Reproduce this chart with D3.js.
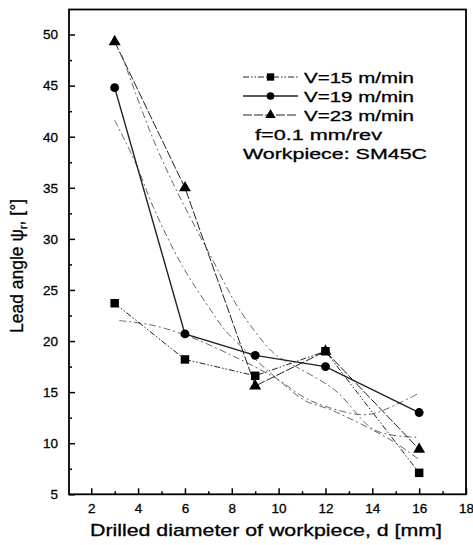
<!DOCTYPE html>
<html>
<head>
<meta charset="utf-8">
<script src="https://cdn.jsdelivr.net/npm/d3@7/dist/d3.min.js"></script>
<style>
  body { margin: 0; background: #fff; }
  text { font-family: "Liberation Sans", Arial, Helvetica, sans-serif; fill: #000; stroke: #000; stroke-width: 0.3; }
</style>
</head>
<body>
<svg id="chart" width="473" height="545"></svg>
<script>
// Measured lead angle for each drilled diameter, per cutting speed
const diameters = [3, 6, 9, 12, 16];
const leadV15 = [23.7, 18.2, 16.6, 19.0, 7.1];
const leadV19 = [44.8, 20.7, 18.6, 17.5, 13.0];
const leadV23 = [49.3, 35.0, 15.6, 19.0, 9.4];

// Trend curves (diameter, angle) drawn as dash-dot lines
const trendV15 = [[3.2, 22.0], [4.5, 21.6], [6.0, 20.6], [8.0, 18.6], [10.0, 16.2], [11.0, 14.6], [12.0, 13.6], [13.5, 12.8], [14.2, 13.0], [16.0, 14.9]];
const trendV19 = [[3.0, 41.6], [3.9, 37.4], [4.65, 33.1], [5.9, 27.3], [7.2, 22.7], [7.7, 21.1], [9.1, 18.0], [10.1, 16.0], [11.1, 14.2], [12.3, 13.2], [14.8, 10.3], [16.0, 8.4]];
const trendV23 = [[3.3, 48.0], [4.6, 40.0], [5.5, 35.4], [7.1, 28.3], [8.35, 23.0], [9.8, 18.8], [10.5, 17.8], [12.4, 15.2], [14.1, 11.3], [15.7, 10.6], [16.0, 10.6]];

const xTicks = [2, 4, 6, 8, 10, 12, 14, 16, 18];
const xMinorTicks = [3, 5, 7, 9, 11, 13, 15, 17];
const yTicks = [5, 10, 15, 20, 25, 30, 35, 40, 45, 50];
const yMinorTicks = [7.5, 12.5, 17.5, 22.5, 27.5, 32.5, 37.5, 42.5, 47.5];

const legendLabels = ["V=15 m/min", "V=19 m/min", "V=23 m/min"];
const noteLines = ["f=0.1 mm/rev", "Workpiece: SM45C"];

const svg = d3.select("#chart");
const plotLeft = 69, plotRight = 466, plotTop = 9.5, plotBottom = 494.3;

const x = d3.scaleLinear().domain([1.05, 18]).range([plotLeft, plotRight]);
const y = d3.scaleLinear().domain([5, 52.45]).range([plotBottom, plotTop]);

// Series definitions
const series = [
  { name: legendLabels[2], values: leadV23, trend: trendV23, shape: d3.symbolTriangle, size: 62, dash: "9,2", width: 1.0 },
  { name: legendLabels[1], values: leadV19, trend: trendV19, shape: d3.symbolCircle, size: 62, dash: null, width: 1.4 },
  { name: legendLabels[0], values: leadV15, trend: trendV15, shape: d3.symbolSquare, size: 72, dash: "6,2,1.5,2,1.5,2", width: 1.0 }
];

// Trend curves
const trendLine = d3.line().x(d => x(d[0])).y(d => y(d[1])).curve(d3.curveCatmullRom);
svg.append("g").selectAll("path").data(series).join("path")
  .attr("d", s => trendLine(s.trend))
  .attr("fill", "none")
  .attr("stroke", "#555")
  .attr("stroke-width", 0.9)
  .attr("stroke-dasharray", "7,3,2,3");

// Data lines
const dataLine = d3.line().x((d, i) => x(diameters[i])).y(d => y(d));
svg.append("g").selectAll("path").data(series).join("path")
  .attr("d", s => dataLine(s.values))
  .attr("fill", "none")
  .attr("stroke", "#222")
  .attr("stroke-width", s => s.width)
  .attr("stroke-dasharray", s => s.dash);

// Markers
series.forEach(s => {
  svg.append("g").selectAll("path").data(s.values).join("path")
    .attr("transform", (d, i) => `translate(${x(diameters[i])},${y(d)})`)
    .attr("d", d3.symbol().type(s.shape).size(s.size))
    .attr("fill", "#000");
});

// Axes with inward ticks
svg.append("g").attr("transform", `translate(0,${plotBottom})`)
  .call(d3.axisBottom(x).tickValues(xTicks).tickSize(-6).tickPadding(9).tickFormat(d3.format("d")));
svg.append("g").attr("transform", `translate(0,${plotBottom})`)
  .call(d3.axisBottom(x).tickValues(xMinorTicks).tickSize(-3).tickFormat(""));
svg.append("g").attr("transform", `translate(${plotLeft},0)`)
  .call(d3.axisLeft(y).tickValues(yTicks).tickSize(-6).tickPadding(11).tickFormat(d3.format("d")));
svg.append("g").attr("transform", `translate(${plotLeft},0)`)
  .call(d3.axisLeft(y).tickValues(yMinorTicks).tickSize(-3).tickFormat(""));

svg.selectAll(".domain").remove();
svg.selectAll(".tick line").attr("stroke", "#000").attr("stroke-width", 1.5);
svg.selectAll(".tick text").attr("font-size", 13.5).attr("font-family", "\"Liberation Sans\", Arial, sans-serif").attr("fill", "#000");

// Frame
svg.append("rect")
  .attr("x", plotLeft).attr("y", plotTop)
  .attr("width", plotRight - plotLeft).attr("height", plotBottom - plotTop)
  .attr("fill", "none").attr("stroke", "#000").attr("stroke-width", 1.8);

// Axis titles
svg.append("text")
  .attr("x", (90 + 442) / 2).attr("y", 536)
  .attr("text-anchor", "middle")
  .attr("font-size", 17)
  .attr("textLength", 352).attr("lengthAdjust", "spacingAndGlyphs")
  .text("Drilled diameter of workpiece, d [mm]");

const yTitle = svg.append("text")
  .attr("transform", "translate(23,266) rotate(-90)")
  .attr("text-anchor", "middle")
  .attr("font-size", 17.5);
yTitle.append("tspan").text("Lead angle ψ");
yTitle.append("tspan").attr("font-size", 11).attr("dy", 4).text("r");
yTitle.append("tspan").attr("dy", -4).text(", [°]");

// Legend
const legendTop = 77, rowGap = 19;
const legend = svg.append("g");
[series[2], series[1], series[0]].forEach((s, i) => {
  const cy = legendTop + i * rowGap;
  legend.append("line")
    .attr("x1", 243).attr("x2", 298).attr("y1", cy).attr("y2", cy)
    .attr("stroke", "#222").attr("stroke-width", s.width)
    .attr("stroke-dasharray", s.dash);
  legend.append("path")
    .attr("transform", `translate(270.5,${cy})`)
    .attr("d", d3.symbol().type(s.shape).size(s.size * 0.75))
    .attr("fill", "#000");
  legend.append("text")
    .attr("x", 304).attr("y", cy + 5.5)
    .attr("font-size", 15)
    .attr("textLength", 110).attr("lengthAdjust", "spacingAndGlyphs")
    .text(s.name);
});
legend.append("text")
  .attr("x", 255).attr("y", legendTop + 3 * rowGap + 5.5)
  .attr("font-size", 15)
  .attr("textLength", 127).attr("lengthAdjust", "spacingAndGlyphs")
  .text(noteLines[0]);
legend.append("text")
  .attr("x", 243).attr("y", legendTop + 4 * rowGap + 5.5)
  .attr("font-size", 15)
  .attr("textLength", 184).attr("lengthAdjust", "spacingAndGlyphs")
  .text(noteLines[1]);
</script>
</body>
</html>
